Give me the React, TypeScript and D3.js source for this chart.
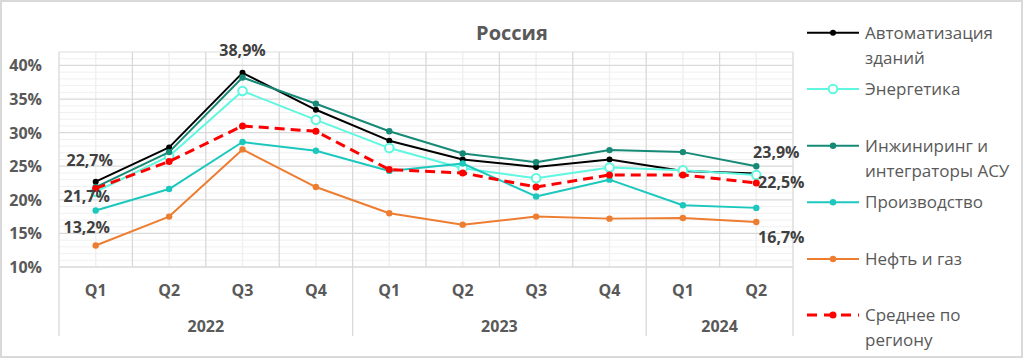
import React from "react";
import * as d3 from "d3";

const quarters = ["Q1", "Q2", "Q3", "Q4", "Q1", "Q2", "Q3", "Q4", "Q1", "Q2"];
const yearLabels = ["2022", "2023", "2024"];
const yearSpans = [4, 4, 2];
const yTicks = [10, 15, 20, 25, 30, 35, 40];

const seriesNames = [
  ["Автоматизация", "зданий"],
  ["Энергетика"],
  ["Инжиниринг и", "интеграторы АСУ"],
  ["Производство"],
  ["Нефть и газ"],
  ["Среднее по", "региону"],
];

const automation = [22.7, 27.8, 38.9, 33.4, 28.8, 26.0, 24.9, 26.0, 24.3, 23.9];
const energy = [21.2, 26.5, 36.2, 31.9, 27.7, 24.7, 23.2, 24.8, 24.4, 23.7];
const engineering = [21.9, 27.1, 38.2, 34.3, 30.2, 26.9, 25.6, 27.4, 27.1, 25.0];
const production = [18.4, 21.6, 28.6, 27.3, 24.3, 25.4, 20.5, 23.0, 19.2, 18.8];
const oilGas = [13.2, 17.5, 27.5, 21.9, 18.0, 16.3, 17.5, 17.2, 17.3, 16.7];
const average = [21.7, 25.7, 31.0, 30.2, 24.5, 24.0, 21.9, 23.7, 23.7, 22.5];

// labelled points: [series index, point index]
const labelPoints = [
  [0, 0], [0, 2], [0, 9],
  [5, 0], [5, 9],
  [4, 0], [4, 9],
];

const seriesValues = [automation, energy, engineering, production, oilGas, average];

const styles = [
  { color: "#000000", width: 2, r: 3, hollow: false, dash: null },
  { color: "#5FF7DF", width: 2, r: 4.3, hollow: true, dash: null },
  { color: "#168A77", width: 2, r: 3.2, hollow: false, dash: null },
  { color: "#1CC8BE", width: 2, r: 3.2, hollow: false, dash: null },
  { color: "#ED7D31", width: 2, r: 3.2, hollow: false, dash: null },
  { color: "#FF0000", width: 3, r: 3.5, hollow: false, dash: "10,6" },
];

// label offsets (dx, dy relative to point, anchor)
const labelLayout = [
  { dx: -6, dy: -16, anchor: "middle" },
  { dx: 0, dy: -17, anchor: "middle" },
  { dx: 20, dy: -16, anchor: "middle" },
  { dx: -9, dy: 14, anchor: "middle" },
  { dx: 25, dy: 5, anchor: "middle" },
  { dx: -9, dy: -13, anchor: "middle" },
  { dx: 25, dy: 21, anchor: "middle" },
];

const legendRows = [32.7, 89, 145.7, 202.3, 259, 315];

const FONT = "'Open Sans', sans-serif";
const GRAY = "#595959";

export default function App() {
  const W = 1024, H = 359;
  const left = 59, right = 793, top = 52, bottom = 267;
  const x = d3.scaleBand<number>().domain(d3.range(quarters.length)).range([left, right]).paddingInner(0).paddingOuter(0);
  const bw = x.bandwidth();
  const cx = (i: number) => (x(i) as number) + bw / 2;
  const y = d3.scaleLinear().domain([10, 42]).range([bottom, top]);
  const line = d3.line<number>().x((_, i) => cx(i)).y((d) => y(d));

  const minorY = d3.range(10, 43, 1).filter((v) => v % 5 !== 0);
  const boundaries = d3.range(quarters.length + 1).map((i) => left + i * bw);
  const yearBounds: number[] = [0];
  yearSpans.forEach((s) => yearBounds.push(yearBounds[yearBounds.length - 1] + s));

  const fmt = (v: number) => v.toFixed(1).replace(".", ",") + "%";

  return (
    <svg width={W} height={H} style={{ position: "absolute", left: 0, top: 0, background: "#fff" }} fontFamily={FONT}>
      <rect x={1} y={1} width={1021} height={356} fill="#fff" stroke="#D9D9D9" strokeWidth={2} />
      <text x={512} y={40} textAnchor="middle" fontSize={20} fontWeight="bold" fill={GRAY}>Россия</text>

      {/* minor grid */}
      {minorY.map((v) => (
        <line key={"my" + v} x1={left} x2={right} y1={y(v)} y2={y(v)} stroke="#F0F0F0" strokeWidth={1} />
      ))}
      {quarters.map((_, i) => (
        <line key={"mx" + i} x1={cx(i)} x2={cx(i)} y1={top} y2={bottom} stroke="#F0F0F0" strokeWidth={1.5} />
      ))}
      {/* major grid */}
      {yTicks.map((v) => (
        <line key={"gy" + v} x1={left} x2={right} y1={y(v)} y2={y(v)} stroke="#D9D9D9" strokeWidth={1.3} />
      ))}
      <line x1={left} x2={right} y1={y(42)} y2={y(42)} stroke="#E6E6E6" strokeWidth={1} />
      {boundaries.map((bx, i) => (
        <line key={"gx" + i} x1={bx} x2={bx} y1={top} y2={bottom} stroke="#D9D9D9" strokeWidth={1.3} />
      ))}
      {/* category axis separators */}
      {yearBounds.map((b, i) => (
        <line key={"ys" + i} x1={left + b * bw} x2={left + b * bw} y1={bottom} y2={336} stroke="#D9D9D9" strokeWidth={1.3} />
      ))}

      {/* y labels */}
      {yTicks.map((v) => (
        <text key={"yl" + v} x={42} y={y(v) + 6} textAnchor="end" fontSize={16} fontWeight="bold" fill={GRAY}>{v}%</text>
      ))}
      {/* x labels */}
      {quarters.map((q, i) => (
        <text key={"xl" + i} x={cx(i)} y={296} textAnchor="middle" fontSize={16} fontWeight="bold" fill={GRAY}>{q}</text>
      ))}
      {yearLabels.map((yl, i) => {
        const a = left + yearBounds[i] * bw, b = left + yearBounds[i + 1] * bw;
        return (
          <text key={"yr" + i} x={(a + b) / 2} y={332} textAnchor="middle" fontSize={16} fontWeight="bold" fill={GRAY}>{yl}</text>
        );
      })}

      {/* series */}
      {seriesValues.map((vals, s) => {
        const st = styles[s];
        return (
          <g key={"s" + s}>
            <path d={line(vals) || ""} fill="none" stroke={st.color} strokeWidth={st.width} strokeDasharray={st.dash || undefined} strokeLinejoin="round" />
            {vals.map((v, i) => (
              <circle key={i} cx={cx(i)} cy={y(v)} r={st.r} fill={st.hollow ? "#fff" : st.color} stroke={st.color} strokeWidth={st.hollow ? 2 : 0} />
            ))}
          </g>
        );
      })}

      {/* data labels */}
      {labelPoints.map(([s, i], k) => {
        const L = labelLayout[k];
        return (
          <text key={"dl" + k} x={cx(i) + L.dx} y={y(seriesValues[s][i]) + L.dy} textAnchor={L.anchor as any} fontSize={16} fontWeight="bold" fill="#404040">
            {fmt(seriesValues[s][i])}
          </text>
        );
      })}

      {/* legend */}
      {seriesNames.map((name, s) => {
        const st = styles[s];
        const ly = legendRows[s];
        return (
          <g key={"lg" + s}>
            <line x1={807} x2={859} y1={ly} y2={ly} stroke={st.color} strokeWidth={st.width} strokeDasharray={st.dash ? "10,7" : undefined} />
            <circle cx={833} cy={ly} r={st.r} fill={st.hollow ? "#fff" : st.color} stroke={st.color} strokeWidth={st.hollow ? 2 : 0} />
            {name.map((t, j) => (
              <text key={j} x={865} y={ly + 6 + j * 25} fontSize={17} fill={GRAY}>{t}</text>
            ))}
          </g>
        );
      })}
    </svg>
  );
}
